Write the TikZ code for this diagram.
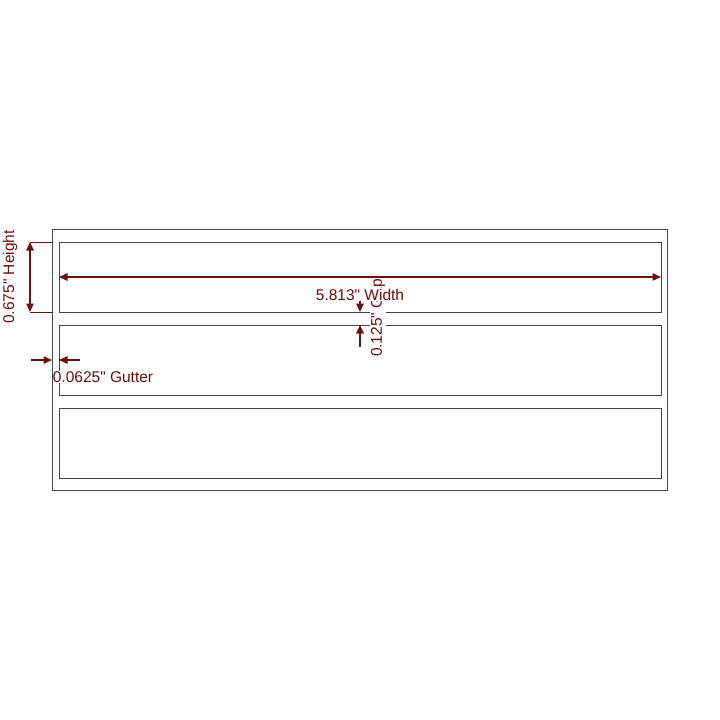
\documentclass[tikz,border=0pt]{standalone}
\usepackage{fontspec}
\setmainfont{Liberation Sans}[Ligatures=TeXOff]
\usetikzlibrary{arrows.meta}
\definecolor{dim}{RGB}{110,14,14}
\definecolor{edge}{RGB}{70,70,70}
\begin{document}
\begin{tikzpicture}[x=1pt,y=-1pt,
  box/.style={draw=edge,line width=1pt},
  dimline/.style={draw=dim,line width=1.1pt},
  dimarrow/.style={dimline,-{Triangle[length=8.5pt,width=7.5pt]}},
  dimboth/.style={dimline,{Triangle[length=8.5pt,width=7.5pt]}-{Triangle[length=8.5pt,width=7.5pt]}},
  lbl/.style={text=dim,fill=white,inner sep=1pt,font=\fontsize{15.5}{17}\selectfont}]
\useasboundingbox (0,0) rectangle (720,720);
% outer sheet and labels
\coordinate (o1) at (52,229); \coordinate (o2) at (667,490);
\coordinate (a1) at (59,242); \coordinate (a2) at (661,312);
\coordinate (b1) at (59,325); \coordinate (b2) at (661,395);
\coordinate (c1) at (59,408); \coordinate (c2) at (661,478);
\draw[box] (a1) rectangle (a2);
\draw[box] (b1) rectangle (b2);
\draw[box] (c1) rectangle (c2);
% width
\coordinate (wl) at (59,277); \coordinate (wr) at (661,277);
\draw[dimboth] (wl) -- (wr);
% height
\coordinate (ht) at (30,242); \coordinate (hb) at (30,312);
\coordinate (htx) at (52,242); \coordinate (hbx) at (52,312);
\draw[dimline,line width=0.9pt] (ht) -- (htx);
\draw[dimline,line width=0.9pt] (hb) -- (hbx);
\draw[dimboth] (ht) -- (hb);
% gap
\coordinate (g0) at (360,298); \coordinate (g1) at (360,312);
\coordinate (g2) at (360,325); \coordinate (g3) at (360,347);
\draw[dimarrow] (g0) -- (g1);
\draw[dimarrow] (g3) -- (g2);
% gutter
\coordinate (u0) at (31,360); \coordinate (u1) at (52,360);
\coordinate (u2) at (59,360); \coordinate (u3) at (80,360);
\draw[dimarrow] (u0) -- (u1);
\draw[dimarrow] (u3) -- (u2);
% labels
\node[lbl,rotate=90] (gaplbl) at (378,318) {0.125" Gap};
\node[lbl] (widthlbl) at (360,294.5) {5.813" Width};
\node[lbl,rotate=90,fill=none] (heightlbl) at (10,277) {0.675" Height};
\node[lbl,inner xsep=0pt] (gutterlbl) at (103,377) {0.0625" Gutter};
\draw[box] (o1) rectangle (o2);
\end{tikzpicture}
\end{document}
